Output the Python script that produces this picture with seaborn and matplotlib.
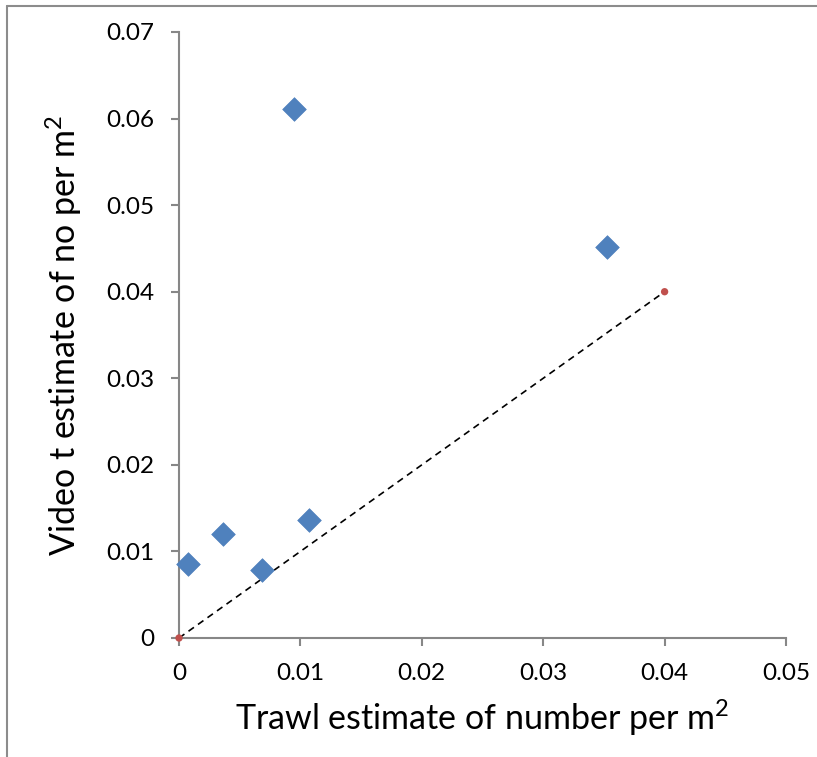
import matplotlib
matplotlib.use("Agg")
import matplotlib.pyplot as plt
from matplotlib.lines import Line2D
import seaborn as sns
import pandas as pd

# Paired density estimates (individuals per m²)
trawl = [0.00947, 0.03526, 0.00074, 0.00362, 0.00684, 0.0107]
video = [0.0611, 0.04515, 0.00855, 0.0120, 0.00785, 0.01363]

# 1:1 reference line endpoints
ref_x = [0.0, 0.04]
ref_y = [0.0, 0.04]

x_ticks = [0, 0.01, 0.02, 0.03, 0.04, 0.05]
x_tick_labels = ["0", "0.01", "0.02", "0.03", "0.04", "0.05"]
y_ticks = [0, 0.01, 0.02, 0.03, 0.04, 0.05, 0.06, 0.07]
y_tick_labels = ["0", "0.01", "0.02", "0.03", "0.04", "0.05", "0.06", "0.07"]

sns.set_style("white")
plt.rcParams["font.family"] = ["Lato", "DejaVu Sans"]
plt.rcParams["mathtext.fontset"] = "custom"
plt.rcParams["mathtext.rm"] = "Lato"
plt.rcParams["mathtext.it"] = "Lato"
plt.rcParams["mathtext.default"] = "regular"

fig = plt.figure(figsize=(8.17, 7.57), dpi=100)
ax = fig.add_axes([179 / 817, 1 - 638 / 757, (786 - 179) / 817, (638 - 32) / 757])

pts = pd.DataFrame({"trawl": trawl, "video": video})
ref = pd.DataFrame({"x": ref_x, "y": ref_y})

sns.lineplot(data=ref, x="x", y="y", ax=ax, color="black", lw=1.2,
             dashes=False, zorder=2, clip_on=False)
ax.lines[-1].set_dashes((4, 3))
sns.scatterplot(data=ref, x="x", y="y", ax=ax, color="#C0504D", s=28,
                edgecolor="none", zorder=3, clip_on=False)
sns.scatterplot(data=pts, x="trawl", y="video", ax=ax, marker="D",
                color="#4F81BD", s=145, edgecolor="#4F81BD", linewidth=0.5,
                zorder=4, clip_on=False)

ax.set_xlim(0, 0.05)
ax.set_ylim(0, 0.07)
ax.set_xticks(x_ticks)
ax.set_xticklabels(x_tick_labels)
ax.set_yticks(y_ticks)
ax.set_yticklabels(y_tick_labels)

spine_col = "#878787"
for side in ("top", "right"):
    ax.spines[side].set_visible(False)
for side in ("left", "bottom"):
    ax.spines[side].set_color(spine_col)
    ax.spines[side].set_linewidth(1.5)

ax.tick_params(axis="both", direction="out", length=6, width=1.5,
               color=spine_col, labelsize=17.5, pad=12, labelcolor="black")
ax.tick_params(axis="x", bottom=True)
ax.tick_params(axis="y", left=True)

ax.set_xlabel("Trawl estimate of number per m$^2$", fontsize=24.5,
              labelpad=10, color="black")
ax.set_ylabel("Video t estimate of no per m$^2$", fontsize=24.5,
              labelpad=16, color="black")

# Outer chart-area frame
fig.add_artist(Line2D([7 / 817, 1.0], [1 - 6 / 757, 1 - 6 / 757],
                      transform=fig.transFigure, color="#8c8c8c", lw=1.5))
fig.add_artist(Line2D([7 / 817, 7 / 817], [0.0, 1 - 6 / 757],
                      transform=fig.transFigure, color="#8c8c8c", lw=1.5))

fig.savefig("out.png", dpi=100)
